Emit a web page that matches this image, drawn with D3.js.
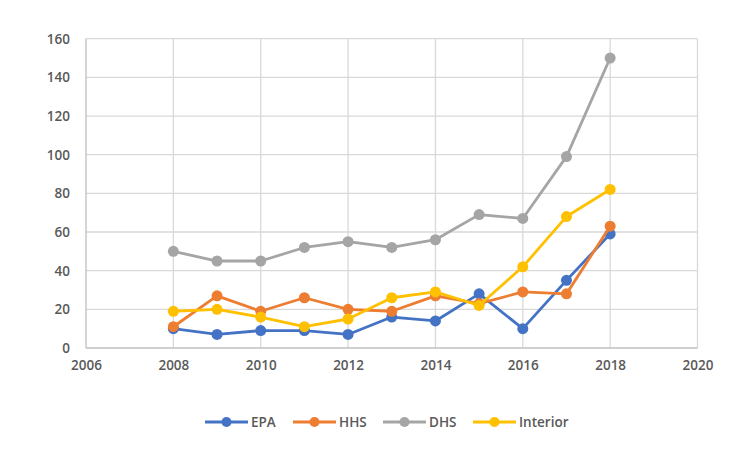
<!DOCTYPE html>
<html><head><meta charset="utf-8">
<script src="https://cdn.jsdelivr.net/npm/d3@7"></script>
<style>body{margin:0;background:#fff}svg{display:block}</style>
</head><body><svg id="c" width="750" height="449"></svg>
<script>
const years = [2008,2009,2010,2011,2012,2013,2014,2015,2016,2017,2018];
const epa = [10,7,9,9,7,16,14,28,10,35,59];
const hhs = [11,27,19,26,20,19,27,23,29,28,63];
const dhs = [50,45,45,52,55,52,56,69,67,99,150];
const interior = [19,20,16,11,15,26,29,22,42,68,82];
const seriesNames = ["EPA","HHS","DHS","Interior"];
const colors = ["#4472C4","#ED7D31","#A5A5A5","#FFC000"];
const xTicks = [2006,2008,2010,2012,2014,2016,2018,2020];
const yTicks = [0,20,40,60,80,100,120,140,160];

const svg = d3.select("#c");
const x = d3.scaleLinear().domain([2006,2020]).range([86,697.5]);
const y = d3.scaleLinear().domain([0,160]).range([348,38.7]);
const font = "'Open Sans', sans-serif";
const fs = "13.5px";

const g = svg.append("g");
g.selectAll(".hg").data(yTicks.slice(1)).join("line")
  .attr("x1",x(2006)).attr("x2",x(2020)).attr("y1",d=>y(d)).attr("y2",d=>y(d))
  .attr("stroke","#D9D9D9").attr("stroke-width",1.3);
g.selectAll(".vg").data(xTicks.slice(1)).join("line")
  .attr("x1",d=>x(d)).attr("x2",d=>x(d)).attr("y1",y(0)).attr("y2",y(160))
  .attr("stroke","#D9D9D9").attr("stroke-width",1.3);
g.append("line").attr("x1",x(2006)).attr("x2",x(2006)).attr("y1",y(0)).attr("y2",y(160)).attr("stroke","#BFBFBF").attr("stroke-width",1.3);
g.append("line").attr("x1",x(2006)).attr("x2",x(2020)).attr("y1",y(0)).attr("y2",y(0)).attr("stroke","#BFBFBF").attr("stroke-width",1.3);

const yAxis = d3.axisLeft(y).tickValues(yTicks).tickSize(0).tickPadding(16);
const ya = svg.append("g").attr("transform",`translate(${x(2006)},0)`).call(yAxis);
ya.select(".domain").remove();
ya.selectAll("text").attr("fill","#595959").style("font-family",font).style("font-size",fs).style("font-weight","600");
const xAxis = d3.axisBottom(x).tickValues(xTicks).tickSize(0).tickPadding(12).tickFormat(d3.format("d"));
const xa = svg.append("g").attr("transform",`translate(0,${y(0)})`).call(xAxis);
xa.select(".domain").remove();
xa.selectAll("text").attr("fill","#595959").style("font-family",font).style("font-size",fs).style("font-weight","600");

const data = [epa,hhs,dhs,interior];
const line = d3.line().x((d,i)=>x(years[i])).y(d=>y(d));
data.forEach((s,k)=>{
  svg.append("path").attr("d",line(s)).attr("fill","none").attr("stroke",colors[k]).attr("stroke-width",2.8).attr("stroke-linejoin","round");
  svg.selectAll(".m"+k).data(s).join("circle")
    .attr("cx",(d,i)=>x(years[i])).attr("cy",d=>y(d)).attr("r",5.5).attr("fill",colors[k]);
});

const legX = [205,293,383,473];
const ly = 422;
seriesNames.forEach((n,k)=>{
  const lg = svg.append("g");
  lg.append("line").attr("x1",legX[k]).attr("x2",legX[k]+43).attr("y1",ly).attr("y2",ly).attr("stroke",colors[k]).attr("stroke-width",2.8);
  lg.append("circle").attr("cx",legX[k]+21.5).attr("cy",ly).attr("r",5).attr("fill",colors[k]);
  lg.append("text").attr("x",legX[k]+46).attr("y",ly).attr("dy","0.35em").text(n)
    .attr("fill","#595959").style("font-family",font).style("font-size",fs).style("font-weight","600");
});
</script></body></html>
